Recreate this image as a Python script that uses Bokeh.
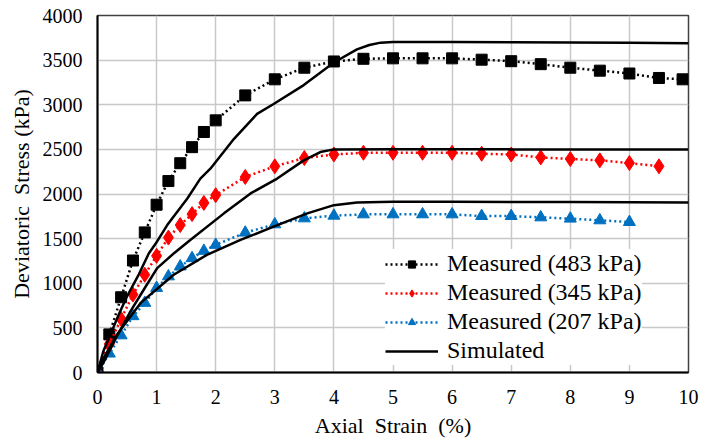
from bokeh.plotting import figure
from bokeh.models import FixedTicker, Legend, LegendItem, Range1d
from bokeh.embed import file_html
from bokeh.resources import INLINE

# Measured 483 kPa
m483_x = [0, 0.2, 0.4, 0.6, 0.8, 1.0, 1.2, 1.4, 1.6, 1.8, 2.0, 2.5, 3.0, 3.5, 4.0, 4.5, 5.0, 5.5, 6.0, 6.5, 7.0, 7.5, 8.0, 8.5, 9.0, 9.5, 9.9]
m483_y = [0, 427, 843, 1255, 1570, 1880, 2145, 2345, 2525, 2695, 2825, 3105, 3285, 3415, 3485, 3515, 3520, 3520, 3520, 3505, 3488, 3455, 3415, 3382, 3350, 3300, 3285]

# Measured 345 kPa
m345_x = [0, 0.2, 0.4, 0.6, 0.8, 1.0, 1.2, 1.4, 1.6, 1.8, 2.0, 2.5, 3.0, 3.5, 4.0, 4.5, 5.0, 5.5, 6.0, 6.5, 7.0, 7.5, 8.0, 8.5, 9.0, 9.5]
m345_y = [0, 320, 600, 873, 1095, 1307, 1512, 1652, 1775, 1900, 1987, 2191, 2310, 2403, 2443, 2462, 2462, 2462, 2462, 2451, 2443, 2410, 2392, 2377, 2347, 2310]

# Measured 207 kPa
m207_x = [0, 0.2, 0.4, 0.6, 0.8, 1.0, 1.2, 1.4, 1.6, 1.8, 2.0, 2.5, 3.0, 3.5, 4.0, 4.5, 5.0, 5.5, 6.0, 6.5, 7.0, 7.5, 8.0, 8.5, 9.0]
m207_y = [0, 212, 416, 631, 780, 947, 1077, 1188, 1281, 1363, 1430, 1567, 1660, 1727, 1757, 1772, 1772, 1772, 1772, 1753, 1753, 1738, 1724, 1705, 1686]

# Simulated curves
s483_x = [0, 0.1, 0.22, 0.36, 0.5, 0.7, 0.87, 1.0, 1.18, 1.52, 1.74, 1.91, 2.31, 2.7, 2.98, 3.49, 4.0, 4.39, 4.6, 4.79, 5.0, 6, 7, 8, 9, 10]
s483_y = [0, 241, 427, 650, 854, 1100, 1337, 1460, 1652, 1950, 2173, 2284, 2618, 2897, 3008, 3220, 3473, 3621, 3670, 3696, 3702, 3702, 3700, 3698, 3694, 3690]

s345_x = [0, 0.1, 0.3, 0.56, 0.8, 1.01, 1.3, 1.57, 2.14, 2.59, 3.04, 3.49, 3.77, 4.0, 5, 6, 7, 8, 9, 10]
s345_y = [0, 111, 370, 687, 947, 1170, 1340, 1485, 1783, 2006, 2173, 2377, 2470, 2500, 2502, 2502, 2500, 2500, 2500, 2500]

s207_x = [0, 0.05, 0.33, 0.73, 1.29, 1.85, 2.42, 2.98, 3.55, 4.0, 4.39, 5, 6, 7, 8, 9, 10]
s207_y = [0, 93, 427, 780, 1095, 1318, 1485, 1634, 1783, 1875, 1905, 1912, 1912, 1910, 1910, 1908, 1905]

x_ticks = [0, 1, 2, 3, 4, 5, 6, 7, 8, 9, 10]
y_ticks = [0, 500, 1000, 1500, 2000, 2500, 3000, 3500, 4000]

legend_labels = ["Measured (483 kPa)", "Measured (345 kPa)", "Measured (207 kPa)", "Simulated"]

FONT = "Liberation Serif"

p = figure(width=701, height=440, output_backend="svg", toolbar_location=None,
           x_range=Range1d(0, 10), y_range=Range1d(0, 4000),
           min_border_left=97, min_border_right=13, min_border_top=15, min_border_bottom=65)

p.outline_line_color = "#404040"
p.outline_line_width = 1.5
p.background_fill_color = "white"
p.border_fill_color = "white"

for ax in (p.xaxis[0], p.yaxis[0]):
    ax.axis_line_color = "black"
    ax.axis_line_width = 2
    ax.major_tick_line_color = None
    ax.minor_tick_line_color = None
    ax.major_tick_out = 0
    ax.major_tick_in = 0
    ax.major_label_text_font = FONT
    ax.major_label_text_font_size = "20px"
    ax.major_label_text_color = "black"
    ax.axis_label_text_font = FONT
    ax.axis_label_text_font_size = "22px"
    ax.axis_label_text_font_style = "normal"
    ax.axis_label_text_color = "black"

p.xaxis.ticker = FixedTicker(ticks=x_ticks)
p.yaxis.ticker = FixedTicker(ticks=y_ticks)
p.xaxis.major_label_standoff = 17
p.yaxis.major_label_standoff = 15
p.xaxis.axis_label = "Axial\u00a0 Strain\u00a0 (%)"
p.yaxis.axis_label = "Deviatoric\u00a0 Stress (kPa)"
p.xaxis.axis_label_standoff = 6
p.yaxis.axis_label_standoff = 6

p.xgrid.ticker = FixedTicker(ticks=x_ticks)
p.ygrid.ticker = FixedTicker(ticks=y_ticks)
p.grid.grid_line_color = "#c8c8c8"
p.grid.grid_line_width = 1.5

BLUE = "#0070C0"
RED = "#FF0000"

l1 = p.line(m483_x, m483_y, line_color="black", line_width=2.5, line_dash="2 3")
k1 = p.scatter(m483_x, m483_y, marker="square", size=11, fill_color="black", line_color="black")
l2 = p.line(m345_x, m345_y, line_color=RED, line_width=2.5, line_dash="2 3")
k2 = p.scatter(m345_x, m345_y, marker="diamond", size=15, fill_color=RED, line_color=RED)
l3 = p.line(m207_x, m207_y, line_color=BLUE, line_width=2.5, line_dash="2 3")
k3 = p.scatter(m207_x, m207_y, marker="triangle", size=12, fill_color=BLUE, line_color=BLUE)

s1 = p.line(s483_x, s483_y, line_color="black", line_width=2.5)
s2 = p.line(s345_x, s345_y, line_color="black", line_width=2.5)
s3 = p.line(s207_x, s207_y, line_color="black", line_width=2.5)

legend = Legend(items=[
    LegendItem(label=legend_labels[0], renderers=[l1, k1]),
    LegendItem(label=legend_labels[1], renderers=[l2, k2]),
    LegendItem(label=legend_labels[2], renderers=[l3, k3]),
    LegendItem(label=legend_labels[3], renderers=[s1]),
], location=(288, 7))
legend.label_text_font = FONT
legend.label_text_font_size = "24px"
legend.label_text_color = "black"
legend.glyph_width = 53
legend.glyph_height = 18
legend.label_height = 29
legend.label_standoff = 9
legend.spacing = 0
legend.padding = 5
legend.margin = 0
legend.border_line_color = None
legend.background_fill_color = "white"
legend.background_fill_alpha = 1.0
p.add_layout(legend, "center")

open("out.html", "w").write(file_html(p, INLINE))
